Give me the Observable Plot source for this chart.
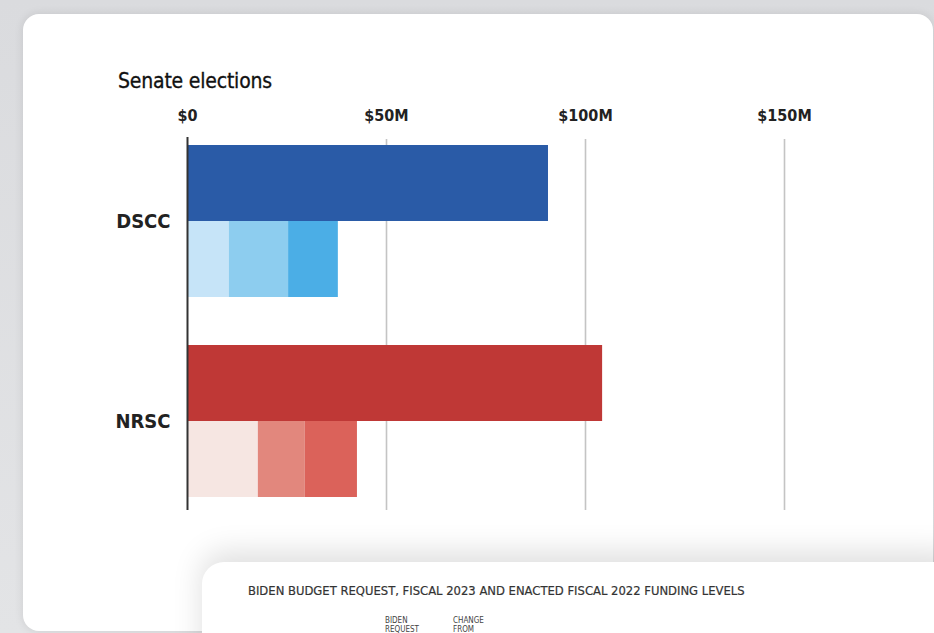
<!DOCTYPE html>
<html>
<head>
<meta charset="utf-8">
<script src="https://cdn.jsdelivr.net/npm/d3@7"></script>
<script src="https://cdn.jsdelivr.net/npm/@observablehq/plot@0.6"></script>
<style>
  html, body { margin: 0; padding: 0; width: 934px; height: 633px; overflow: hidden; }
  body { background: linear-gradient(#dadbde, #e3e4e6); position: relative;
         font-family: "Liberation Sans Narrow", "DejaVu Sans Condensed", Roboto, sans-serif; }
  #card1 { position: absolute; left: 23px; top: 14px; width: 910px; height: 617px;
           background: #fff; border-radius: 16px; box-shadow: 0 0 10px rgba(0,0,0,0.10); }
  #title { position: absolute; left: 118px; top: 69px; font-size: 21px; font-weight: 500;
           color: #111; letter-spacing: -0.2px; -webkit-text-stroke: 0.3px #111; }
  #chart { position: absolute; left: 0; top: 0; }
  #card2 { position: absolute; left: 202px; top: 562px; width: 760px; height: 120px;
           background: #fff; border-radius: 22px; box-shadow: 0 -10px 30px rgba(0,0,0,0.13); }
  #card2 .t { position: absolute; left: 46px; top: 21px; font-size: 12.9px; color: #333; font-weight: 500;
              -webkit-text-stroke: 0.2px #333; }
  #card2 .h1 { position: absolute; left: 183px; top: 54px; font-size: 8px; color: #444; }
  #card2 .h2 { position: absolute; left: 251px; top: 54px; font-size: 8px; color: #444; }
</style>
</head>
<body>
<div id="card1"></div>
<div id="title">Senate elections</div>
<div id="chart"></div>
<div id="card2">
  <div class="t">BIDEN BUDGET REQUEST, FISCAL 2023 AND ENACTED FISCAL 2022 FUNDING LEVELS</div>
  <div class="h1">BIDEN<br>REQUEST</div>
  <div class="h2">CHANGE<br>FROM</div>
</div>
<script>
// ---- data ----
const committees = ["DSCC", "NRSC"];
const totals = [90.7, 104.3];                 // $M, full bar
const segmentNames = ["Segment 1", "Segment 2", "Segment 3"];
const dsccSegments = [10.5, 14.9, 12.5];      // $M, stacked breakdown
const nrscSegments = [17.8, 11.8, 13.1];      // $M, stacked breakdown
const xTicks = [0, 50, 100, 150];
const xTickLabels = ["$0", "$50M", "$100M", "$150M"];

// ---- styles ----
const totalColors = {DSCC: "#2a5ba7", NRSC: "#bf3836"};
const segColors = {
  DSCC: ["#c6e4f8", "#8dcdef", "#4baee6"],
  NRSC: ["#f6e6e2", "#e2877d", "#db625a"]
};

const totalRows = committees.map((c, i) => ({committee: c, row: "total", value: totals[i], color: totalColors[c]}));
const segRows = [];
[dsccSegments, nrscSegments].forEach((arr, i) => {
  arr.forEach((v, j) => segRows.push({committee: committees[i], row: "parts", segment: segmentNames[j], value: v, color: segColors[committees[i]][j]}));
});
const grid = [];
committees.forEach(c => xTicks.forEach(t => grid.push({committee: c, x: t})));

const font = '"Liberation Sans Narrow", "DejaVu Sans Condensed", Roboto, sans-serif';

const chart = Plot.plot({
  width: 934,
  height: 530,
  marginLeft: 187,
  marginRight: 150,
  marginTop: 145,
  marginBottom: 33,
  style: {fontFamily: font, background: "transparent", color: "#222"},
  x: {domain: [0, 150], axis: null},
  y: {domain: ["total", "parts"], padding: 0, axis: null},
  fy: {domain: committees, padding: 0.24, label: null, axis: null},
  marks: [
    Plot.ruleX(grid.filter(d => d.committee === "DSCC" && d.x > 0), {x: "x", fy: "committee", stroke: "#c4c4c4", strokeWidth: 1.6, insetTop: -6, insetBottom: -24}),
    Plot.ruleX(grid.filter(d => d.committee === "NRSC" && d.x > 0), {x: "x", fy: "committee", stroke: "#c4c4c4", strokeWidth: 1.6, insetTop: -24, insetBottom: -13}),
    Plot.barX(totalRows, {x: "value", y: "row", fy: "committee", fill: "color"}),
    Plot.barX(segRows, {x: "value", y: "row", fy: "committee", fill: "color"}),
    Plot.ruleX(grid.filter(d => d.committee === "DSCC" && d.x === 0), {x: "x", fy: "committee", stroke: "#333", strokeWidth: 2, insetTop: -8, insetBottom: -24}),
    Plot.ruleX(grid.filter(d => d.committee === "NRSC" && d.x === 0), {x: "x", fy: "committee", stroke: "#333", strokeWidth: 2, insetTop: -24, insetBottom: -13}),
    Plot.axisX(xTicks, {anchor: "top", tickSize: 0, tickPadding: 25, fontSize: 16, fontWeight: "bold",
      tickFormat: (d) => xTickLabels[xTicks.indexOf(d)]}),
    Plot.axisFy({anchor: "left", tickSize: 0, tickPadding: 17, fontSize: 20, fontWeight: "bold"})
  ]
});
document.getElementById("chart").appendChild(chart);
</script>
</body>
</html>
